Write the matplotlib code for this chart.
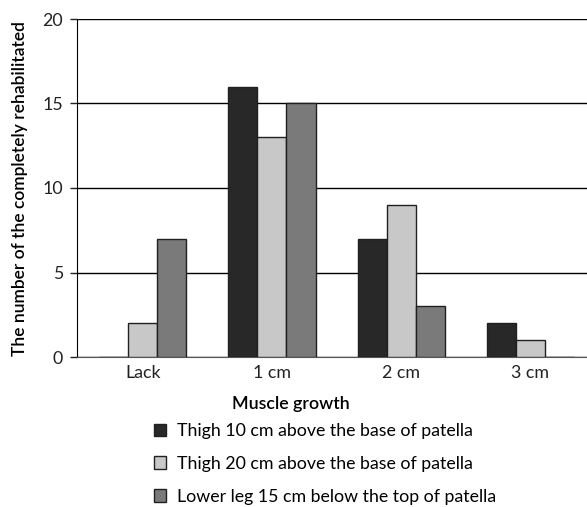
import matplotlib
matplotlib.use('Agg')
import matplotlib.pyplot as plt
import numpy as np

categories = ['Lack', '1 cm', '2 cm', '3 cm']
thigh_10 = [0, 16, 7, 2]
thigh_20 = [2, 13, 9, 1]
lower_leg_15 = [7, 15, 3, 0]
series_labels = ['Thigh 10 cm above the base of patella',
                 'Thigh 20 cm above the base of patella',
                 'Lower leg 15 cm below the top of patella']
colors = ['#282828', '#c8c8c8', '#7a7a7a']

plt.rcParams['font.family'] = ['Lato', 'DejaVu Sans']

fig = plt.figure(figsize=(5.87, 5.07), dpi=100)
# axes box in pixels: left 77, right 587, top 19, bottom 357
ax = fig.add_axes([77 / 587, 1 - 357 / 507, 510 / 587, 338 / 507])

x = np.arange(len(categories))
width = 0.225
handles = []
for i, (vals, col) in enumerate(zip([thigh_10, thigh_20, lower_leg_15], colors)):
    bars = ax.bar(x + (i - 1) * width, vals, width, color=col, edgecolor='#202020',
                  linewidth=1, zorder=3, label=series_labels[i])
    handles.append(bars)

ax.set_ylim(0, 20)
ax.set_xlim(-0.51, 3.44)
ax.set_yticks([0, 5, 10, 15, 20])
ax.set_xticks(x)
ax.set_xticklabels(categories, fontsize=12.8)
ax.tick_params(axis='y', labelsize=12.8, length=5, width=1, pad=5, colors='#222222')
ax.tick_params(axis='x', length=0, pad=6, colors='#222222')
ax.yaxis.grid(True, color='black', linewidth=1, zorder=0)
ax.set_axisbelow(True)
for side in ['top', 'right']:
    ax.spines[side].set_visible(False)
ax.spines['bottom'].set_color('#555555')
ax.spines['left'].set_color('black')

fig.text(20 / 587, 1 - 189 / 507, 'The number of the completely rehabilitated',
         rotation=90, ha='center', va='center', fontsize=12.5, fontweight='semibold')
fig.text(291 / 587, 1 - 404 / 507, 'Muscle growth', ha='center', va='center',
         fontsize=12.8, fontweight='semibold')

fig.legend(handles=handles, labels=series_labels, loc='upper left',
           bbox_to_anchor=(154 / 587, 1 - 423 / 507), bbox_transform=fig.transFigure,
           frameon=False, fontsize=12.8, handlelength=0.7, handleheight=0.7,
           handletextpad=0.6, labelspacing=0.95, borderaxespad=0, borderpad=0)

fig.savefig('out.png', dpi=100)
